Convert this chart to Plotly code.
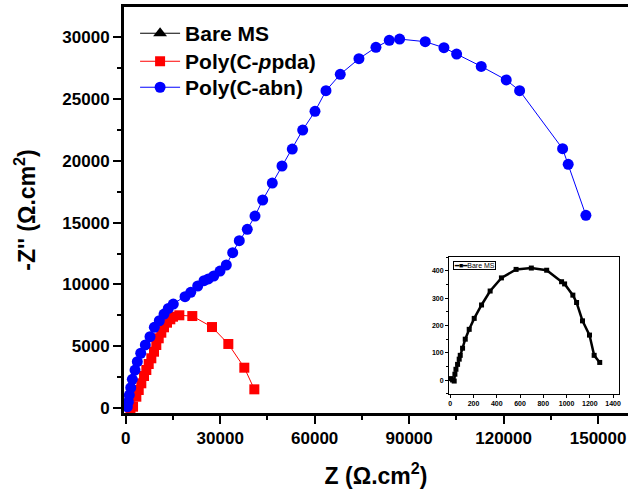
import plotly.graph_objects as go

# ---- data ----
bare_x = [5, 20, 34, 40, 49, 63, 77, 86, 106, 129, 163, 206, 269, 343, 440, 566, 697, 829, 957, 983, 1054, 1086, 1137, 1197, 1237, 1285]
bare_y = [6, 1, -3, 22, 40, 58, 77, 91, 117, 150, 186, 226, 275, 326, 374, 405, 410, 402, 360, 352, 311, 284, 217, 165, 91, 65]

ppda_x = [1500, 2320, 3370, 4130, 4950, 5810, 6540, 7300, 8130, 8980, 9710, 10480, 11300, 12160, 13110, 14160, 15020,
          17020, 21140, 27400, 32580, 37660, 40840]
ppda_y = [0, 105, 914, 1456, 1998, 2589, 3074, 3560, 4021, 4555, 5097, 5639, 6092, 6529, 6901, 7176, 7387,
          7500, 7440, 6550, 5180, 3260, 1510]

abn_x = [510, 830, 1140, 1590, 2100, 2950, 3680, 4760, 6220, 7710, 9080, 10670, 12160, 13520, 15110, 18830, 20640,
         22860, 24860, 26230, 27940, 29940, 31940, 33970, 36060, 38600, 41050, 43490, 46540, 49620, 52890,
         56190, 60100, 63590, 68130, 74060, 79460, 83690, 86980, 95110, 101050, 105080, 112890, 120830,
         125080, 138730, 140510, 146130]
abn_y = [100, 510, 1050, 1640, 2320, 3070, 3750, 4430, 5100, 5770, 6530, 7060, 7600, 8060, 8410, 9010, 9360,
         9870, 10300, 10440, 10680, 11080, 11570, 12570, 13540, 14460, 15530, 16830, 18200, 19580, 20950,
         22490, 24000, 25670, 27000, 28260, 29180, 29750, 29850, 29640, 29150, 28640, 27640, 26540,
         25670, 20980, 19720, 15590]

main_xticks = [0, 30000, 60000, 90000, 120000, 150000]
main_yticks = [0, 5000, 10000, 15000, 20000, 25000, 30000]
inset_xticks = [0, 200, 400, 600, 800, 1000, 1200, 1400]
inset_yticks = [0, 100, 200, 300, 400]

FONT = "Liberation Sans, Arial, sans-serif"

fig = go.Figure()

fig.add_trace(go.Scatter(
    x=bare_x, y=bare_y, mode="lines+markers", name="Bare MS",
    line=dict(color="black", width=1),
    marker=dict(symbol="triangle-up", size=12, color="black"),
    xaxis="x", yaxis="y", legend="legend"))
fig.add_trace(go.Scatter(
    x=ppda_x, y=ppda_y, mode="lines+markers", name="Poly(C-<i>p</i>pda)",
    line=dict(color="#ff0000", width=1),
    marker=dict(symbol="square", size=10, color="#ff0000"),
    xaxis="x", yaxis="y", legend="legend2"))
fig.add_trace(go.Scatter(
    x=abn_x, y=abn_y, mode="lines+markers", name="Poly(C-abn)",
    line=dict(color="#0000ff", width=1),
    marker=dict(symbol="circle", size=11, color="#0000ff"),
    xaxis="x", yaxis="y", legend="legend3"))

# inset
fig.add_trace(go.Scatter(
    x=bare_x, y=bare_y, mode="lines+markers", name="Bare MS",
    line=dict(color="black", width=2.5),
    marker=dict(symbol="square", size=5, color="black"),
    xaxis="x2", yaxis="y2", showlegend=False))

# inset legend (compact box)
fig.add_annotation(
    xref="x2 domain", yref="y2 domain", x=0.025, y=0.975, xanchor="left", yanchor="top",
    text="<b>━■━</b>Bare MS", showarrow=False,
    font=dict(size=7, family=FONT, color="black"),
    bordercolor="black", borderwidth=1, borderpad=0, bgcolor="rgba(0,0,0,0)")

leg_common = dict(
    xanchor="left", yanchor="top",
    bgcolor="rgba(0,0,0,0)", borderwidth=0,
    font=dict(size=21, family=FONT, weight="bold"),
    tracegroupgap=0, itemwidth=40,
)

fig.update_layout(
    template="none",
    width=628, height=492,
    margin=dict(l=124, r=0, t=7, b=79, autoexpand=False),
    paper_bgcolor="white", plot_bgcolor="white",
    font=dict(family=FONT, color="black"),
    xaxis=dict(
        domain=[0, 1], range=[-550, 159500], automargin=False,
        tickvals=main_xticks, ticktext=[str(v) for v in main_xticks],
        showline=True, linecolor="black", linewidth=3, mirror=True,
        ticks="outside", ticklen=8, tickwidth=2, tickcolor="black",
        minor=dict(dtick=15000, tick0=0, ticks="outside", ticklen=4, tickwidth=2, tickcolor="black", showgrid=False),
        tickfont=dict(size=17, family=FONT, weight="bold"),
        showgrid=False, zeroline=False,
        title=dict(text="Z (Ω.cm<sup>2</sup>)", font=dict(size=23, family=FONT, weight="bold"), standoff=21),
    ),
    yaxis=dict(
        domain=[0, 1], range=[-405, 32445], automargin=False,
        tickvals=main_yticks, ticktext=[str(v) for v in main_yticks],
        showline=True, linecolor="black", linewidth=3,
        ticks="outside", ticklen=8, tickwidth=2, tickcolor="black",
        minor=dict(dtick=2500, tick0=0, ticks="outside", ticklen=4, tickwidth=2, tickcolor="black", showgrid=False),
        tickfont=dict(size=17, family=FONT, weight="bold"),
        showgrid=False, zeroline=False,
        title=dict(text="-Z'' (Ω.cm<sup>2</sup>)", font=dict(size=23, family=FONT, weight="bold"), standoff=21),
    ),
    xaxis2=dict(
        domain=[0.645, 0.982], anchor="y2", range=[-10, 1450], automargin=False,
        tickvals=inset_xticks, ticktext=[str(v) for v in inset_xticks],
        showline=True, linecolor="black", linewidth=1.2, mirror=True,
        ticks="outside", ticklen=3, tickwidth=1, tickcolor="black",
        tickfont=dict(size=7, family=FONT, weight="bold"),
        showgrid=False, zeroline=False,
    ),
    yaxis2=dict(
        domain=[0.047, 0.384], anchor="x2", range=[-50, 450], automargin=False,
        tickvals=inset_yticks, ticktext=[str(v) for v in inset_yticks],
        showline=True, linecolor="black", linewidth=1.2, mirror=True,
        ticks="outside", ticklen=3, tickwidth=1, tickcolor="black",
        minor=dict(dtick=50, tick0=0, ticks="outside", ticklen=2, tickwidth=1, tickcolor="black", showgrid=False),
        tickfont=dict(size=7, family=FONT, weight="bold"),
        showgrid=False, zeroline=False,
    ),
    legend=dict(x=0.022, y=0.985, **leg_common),
    legend2=dict(x=0.022, y=0.916, **leg_common),
    legend3=dict(x=0.022, y=0.852, **leg_common),
    showlegend=True,
)

fig.write_html("out.html", config={"displayModeBar": False},
               post_script="document.body.style.margin='0px';")
